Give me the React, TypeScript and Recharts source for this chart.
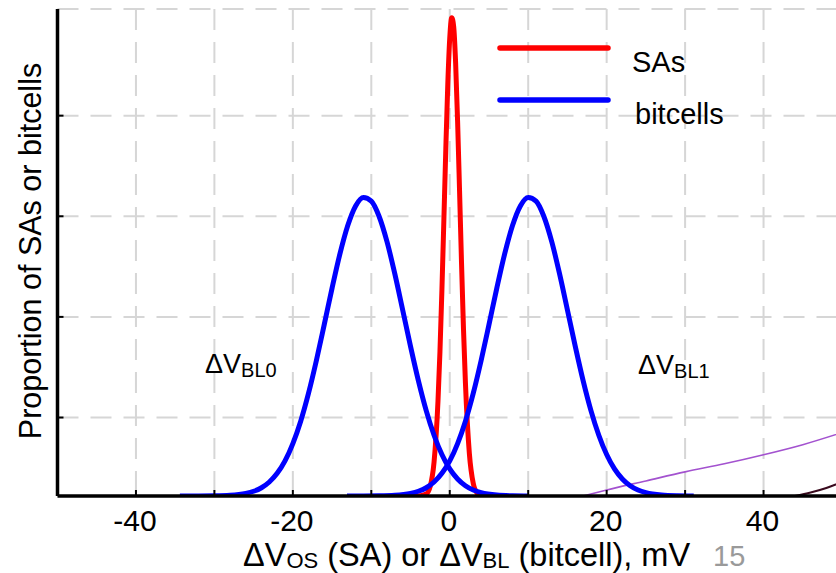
import React from "react";
import { LineChart, Line, XAxis, YAxis, CartesianGrid } from "recharts";

// x in mV, y in gridline units (one dashed gridline spacing = 1.0)
const SA_X = [-4.8, -4, -3, -2.5, -2, -1.5, -1.25, -1, -0.75, -0.5, -0.25, 0, 0.25, 0.5, 0.75, 1, 1.25, 1.5, 1.75, 2, 2.5, 3, 3.5, 4, 4.6];
const SA_Y = [0, 0.0005, 0.021, 0.094, 0.338, 0.942, 1.432, 2.045, 2.743, 3.456, 4.093, 4.55, 4.754, 4.666, 4.302, 3.726, 3.032, 2.317, 1.664, 1.122, 0.423, 0.124, 0.028, 0.005, 0];

const BL0_X = [-34.4, -32, -30, -28, -26, -25, -24, -23, -22, -21, -20, -19, -18, -17, -16, -15, -14, -13, -12, -11, -10, -9, -8, -7, -6, -5, -4, -3, -2, -1, 0, 1, 2, 3, 4, 6, 8, 10.1];
const BL0_Y = [0, 0.0003, 0.0015, 0.0067, 0.026, 0.047, 0.082, 0.139, 0.225, 0.349, 0.521, 0.744, 1.022, 1.347, 1.703, 2.066, 2.406, 2.688, 2.883, 2.967, 2.931, 2.778, 2.528, 2.207, 1.849, 1.487, 1.147, 0.849, 0.604, 0.412, 0.269, 0.169, 0.102, 0.059, 0.033, 0.009, 0.002, 0];

const BL1_X = [-13.1, -11, -9, -7, -5, -4, -3, -2, -1, 0, 1, 2, 3, 4, 5, 6, 7, 8, 9, 10, 11, 12, 13, 14, 15, 16, 17, 18, 19, 20, 21, 22, 23, 24, 25, 27, 29, 31.1];
const BL1_Y = [0, 0.0003, 0.0015, 0.0067, 0.026, 0.047, 0.082, 0.139, 0.225, 0.349, 0.521, 0.744, 1.022, 1.347, 1.703, 2.066, 2.406, 2.688, 2.883, 2.967, 2.931, 2.778, 2.528, 2.207, 1.849, 1.487, 1.147, 0.849, 0.604, 0.412, 0.269, 0.169, 0.102, 0.059, 0.033, 0.009, 0.002, 0];

// stray curves from the slide at the right edge
const PURPLE_X = [17, 20, 25, 30, 35, 40, 45, 50];
const PURPLE_Y = [0, 0.06, 0.15, 0.24, 0.32, 0.41, 0.51, 0.63];
const DARK_X = [44, 46, 48, 50];
const DARK_Y = [0, 0.035, 0.08, 0.14];

const X_TICKS = [-50, -40, -30, -20, -10, 0, 10, 20, 30, 40, 50];
const X_LABELS = [-40, -20, 0, 20, 40];
const TOP_TICKS = [-10, 0, 10, 40];
const Y_TICKS = [0.78, 1.78, 2.78, 3.78];

const LEGEND = [
  { name: "SAs", color: "#ff0000" },
  { name: "bitcells", color: "#0000ff" },
];

const toRows = (xs: number[], ys: number[]) => xs.map((x, i) => ({ x, y: ys[i] }));

const FONT = "'Liberation Sans', Arial, sans-serif";

const BottomTick = (props: any) => {
  const { x, y, payload } = props;
  const show = X_LABELS.includes(payload.value);
  return (
    <g>
      <line x1={x} x2={x} y1={y} y2={y - 6} stroke="#000" strokeWidth={2} />
      {show && (
        <text x={x - 1} y={y + 35} textAnchor="middle" fontSize={30} fontFamily={FONT} fill="#000">
          {payload.value}
        </text>
      )}
    </g>
  );
};

const TopTick = (props: any) => {
  const { x, y } = props;
  return <line x1={x} x2={x} y1={y} y2={y + 6} stroke="#000" strokeWidth={2} />;
};

const LeftTick = (props: any) => {
  const { x, y } = props;
  return <line x1={x} x2={x + 6} y1={y} y2={y} stroke="#000" strokeWidth={2} />;
};

export default function App() {
  return (
    <div style={{ position: "fixed", left: 0, top: 0, width: 836, height: 573, overflow: "hidden", background: "#fff" }}>
      <LineChart width={860} height={573} margin={{ top: 9, right: 18, bottom: 37, left: 0 }}>
        <CartesianGrid stroke="#d6d6d6" strokeWidth={2} strokeDasharray="21 12" />
        <XAxis
          type="number"
          dataKey="x"
          domain={[-50, 50]}
          ticks={X_TICKS}
          interval={0}
          allowDataOverflow
          height={40}
          tickSize={0}
          tickMargin={0}
          axisLine={{ stroke: "#000", strokeWidth: 3.5 }}
          tickLine={false}
          tick={<BottomTick />}
        />
        <XAxis
          xAxisId="top"
          orientation="top"
          type="number"
          dataKey="x"
          domain={[-50, 50]}
          ticks={TOP_TICKS}
          interval={0}
          allowDataOverflow
          height={0}
          tickSize={0}
          tickMargin={0}
          axisLine={{ stroke: "#000", strokeWidth: 3.5 }}
          tickLine={false}
          tick={<TopTick />}
        />
        <YAxis
          type="number"
          domain={[0, 4.84]}
          ticks={Y_TICKS}
          interval={0}
          allowDataOverflow
          width={57.5}
          tickSize={0}
          tickMargin={0}
          axisLine={{ stroke: "#000", strokeWidth: 3.5 }}
          tickLine={false}
          tick={<LeftTick />}
        />
        <Line data={toRows(PURPLE_X, PURPLE_Y)} dataKey="y" type="monotone" stroke="#a352cf" strokeWidth={1.6} dot={false} isAnimationActive={false} />
        <Line data={toRows(DARK_X, DARK_Y)} dataKey="y" type="monotone" stroke="#3a0a1e" strokeWidth={2} dot={false} isAnimationActive={false} />
        <Line data={toRows(SA_X, SA_Y)} dataKey="y" name="SAs" type="monotone" stroke="#ff0000" strokeWidth={5} dot={false} isAnimationActive={false} />
        <Line data={toRows(BL0_X, BL0_Y)} dataKey="y" name="bitcells" type="monotone" stroke="#0000ff" strokeWidth={5} dot={false} isAnimationActive={false} />
        <Line data={toRows(BL1_X, BL1_Y)} dataKey="y" type="monotone" stroke="#0000ff" strokeWidth={5} dot={false} isAnimationActive={false} />
      </LineChart>
      <svg width={836} height={573} style={{ position: "absolute", left: 0, top: 0, pointerEvents: "none" }} fontFamily={FONT}>
        {/* legend */}
        {LEGEND.map((it, i) => (
          <g key={it.name}>
            <line x1={500} x2={608} y1={48 + i * 52} y2={48 + i * 52} stroke={it.color} strokeWidth={5.5} strokeLinecap="round" />
            <text x={632 + i * 3} y={72 + i * 52} fontSize={29} fill="#000">
              {it.name}
            </text>
          </g>
        ))}
        <text x={41} y={251} transform="rotate(-90 41 251)" textAnchor="middle" fontSize={30.5} fill="#000">
          Proportion of SAs or bitcells
        </text>
        <text x={243} y={565.5} fontSize={32.5} fill="#000">
          ΔV<tspan fontSize={22} dy={2.5}>OS</tspan>
          <tspan dy={-2.5}>{" (SA) or ΔV"}</tspan>
          <tspan fontSize={22} dy={2.5}>BL</tspan>
          <tspan dy={-2.5}>{" (bitcell), mV"}</tspan>
        </text>
        <text x={713} y={566} fontSize={29} fill="#9a9a9a">15</text>
        <text x={205} y={373} fontSize={27} fill="#000">
          ΔV<tspan fontSize={20} dy={4}>BL0</tspan>
        </text>
        <text x={638} y={374} fontSize={27} fill="#000">
          ΔV<tspan fontSize={20} dy={4}>BL1</tspan>
        </text>
      </svg>
    </div>
  );
}
